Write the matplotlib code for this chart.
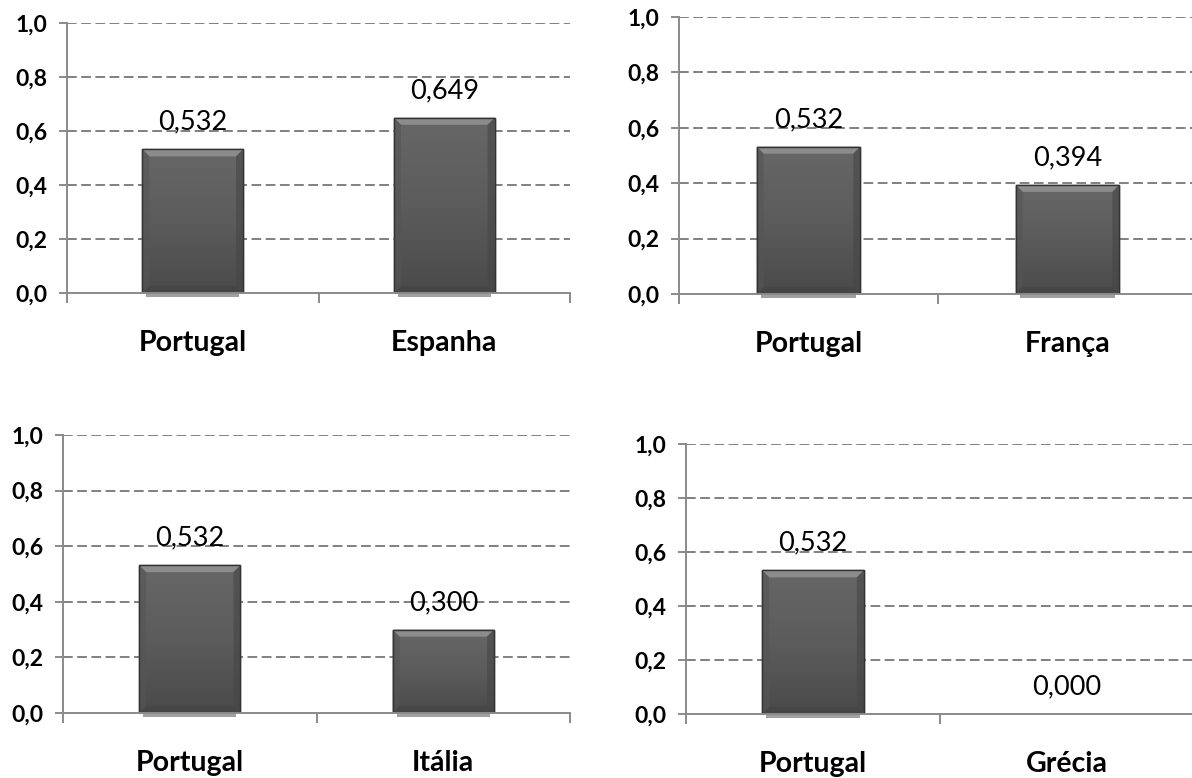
import matplotlib
matplotlib.use("Agg")
import matplotlib.pyplot as plt
import numpy as np
from matplotlib.colors import LinearSegmentedColormap
from matplotlib.patches import Polygon, Rectangle

# Data: each panel compares Portugal with one other country
cats_es = ["Portugal", "Espanha"]
vals_es = [0.532, 0.649]
cats_fr = ["Portugal", "França"]
vals_fr = [0.532, 0.394]
cats_it = ["Portugal", "Itália"]
vals_it = [0.532, 0.300]
cats_gr = ["Portugal", "Grécia"]
vals_gr = [0.532, 0.000]

y_ticks = [0.0, 0.2, 0.4, 0.6, 0.8, 1.0]
y_tick_labels = ["0,0", "0,2", "0,4", "0,6", "0,8", "1,0"]

FONT = ["Lato", "DejaVu Sans"]
AXIS_GREY = "#8a8a8a"
GRID_GREY = "#808080"

fig = plt.figure(figsize=(11.92, 7.78), dpi=100)
fig.patch.set_facecolor("white")

# axes rectangles [left, bottom, width, height] in figure fractions
panels = [
    ([0.0562, 0.6234, 0.4220, 0.3470], cats_es, vals_es),
    ([0.5696, 0.6221, 0.4346, 0.3560], cats_fr, vals_fr),
    ([0.0529, 0.0835, 0.4253, 0.3573], cats_it, vals_it),
    ([0.5755, 0.0823, 0.4262, 0.3470], cats_gr, vals_gr),
]

body_cmap = LinearSegmentedColormap.from_list("body", ["#4a4a4a", "#5c5c5c", "#676767"])
BAR_W = 0.40


def fmt(v):
    return f"{v:.3f}".replace(".", ",")


def draw_panel(rect, cats, vals):
    ax = fig.add_axes(rect)
    xs = np.arange(len(cats))
    ax.set_xlim(-0.5, len(cats) - 0.5)
    ax.set_ylim(0, 1.0)

    # dashed horizontal gridlines
    for t in y_ticks[1:]:
        ax.axhline(t, color=GRID_GREY, lw=1.4, ls=(0, (5.0, 2.3)), zorder=1)

    fig.canvas.draw()
    bb = ax.get_window_extent()
    px_x = (len(cats)) / bb.width     # data units per pixel, x
    px_y = 1.0 / bb.height            # data units per pixel, y

    lws = [1.0 if v > 0 else 0.0 for v in vals]
    bars = ax.bar(xs, vals, BAR_W, color="#5a5a5a", edgecolor="#383838",
                  linewidth=lws, zorder=3)

    for b, v in zip(bars, vals):
        if v <= 0:
            continue
        x0 = b.get_x()
        x1 = x0 + b.get_width()
        # vertical shading of the bar body
        grad = np.linspace(0, 1, 256).reshape(-1, 1)
        im = ax.imshow(grad, extent=[x0, x1, 0, v], origin="lower",
                       aspect="auto", cmap=body_cmap, zorder=3.1,
                       interpolation="bilinear")
        im.set_clip_path(b)
        # bevel around the bar edges
        dx = 7 * px_x
        dy = 7 * px_y
        top = Polygon([(x0, v), (x1, v), (x1 - dx, v - dy), (x0 + dx, v - dy)],
                      closed=True, facecolor="#8c8c8c", edgecolor="none", zorder=3.2)
        left = Polygon([(x0, 0), (x0, v), (x0 + dx, v - dy), (x0 + dx, dy)],
                       closed=True, facecolor="#555555", edgecolor="none", zorder=3.2,
                       alpha=0.6)
        right = Polygon([(x1, 0), (x1, v), (x1 - dx, v - dy), (x1 - dx, dy)],
                        closed=True, facecolor="#464646", edgecolor="none", zorder=3.2,
                        alpha=0.6)
        bottom = Polygon([(x0, 0), (x1, 0), (x1 - dx, dy), (x0 + dx, dy)],
                         closed=True, facecolor="#444444", edgecolor="none", zorder=3.2,
                         alpha=0.7)
        for p in (top, left, right, bottom):
            ax.add_patch(p)
        edge = Rectangle((x0, 0), x1 - x0, v, facecolor="none",
                         edgecolor="#333333", lw=1.0, zorder=3.3)
        ax.add_patch(edge)
        # soft shadow just under the baseline
        sh = Rectangle((x0 + 4 * px_x, -4 * px_y), (x1 - x0) - 8 * px_x, 4 * px_y,
                       facecolor="#a0a0a0", edgecolor="none", zorder=2,
                       clip_on=False)
        ax.add_patch(sh)

    # value labels
    for x, v in zip(xs, vals):
        ax.annotate(fmt(v), xy=(x, v), xytext=(0, 19.5), textcoords="offset points",
                    ha="center", va="center", fontsize=19.5, family=FONT,
                    color="#000000", zorder=5)

    # category labels below the axis
    for x, c in zip(xs, cats):
        ax.annotate(c, xy=(x, 0), xycoords=("data", "axes fraction"),
                    xytext=(0, -36), textcoords="offset points",
                    ha="center", va="center", fontsize=20.5, fontweight="bold",
                    family=FONT, color="#000000")

    # axes styling
    for s in ("top", "right"):
        ax.spines[s].set_visible(False)
    for s in ("left", "bottom"):
        ax.spines[s].set_color(AXIS_GREY)
        ax.spines[s].set_linewidth(1.4)
        ax.spines[s].set_zorder(4)

    ax.set_xticks(np.arange(-0.5, len(cats), 1.0))
    ax.set_xticklabels([])
    ax.tick_params(axis="x", direction="out", length=7, width=1.4, color=AXIS_GREY)

    ax.set_yticks(y_ticks)
    ax.set_yticklabels(y_tick_labels)
    ax.tick_params(axis="y", direction="out", length=6, width=1.4,
                   color=AXIS_GREY, pad=8, labelsize=16.5)
    for lab in ax.get_yticklabels():
        lab.set_fontweight("bold")
        lab.set_family(FONT)
    ax.set_xlim(-0.5, len(cats) - 0.5)
    ax.set_ylim(0, 1.0)
    ax.patch.set_alpha(0)
    return ax


for rect, cats, vals in panels:
    draw_panel(rect, cats, vals)

fig.savefig("out.png", dpi=100, facecolor="white")
